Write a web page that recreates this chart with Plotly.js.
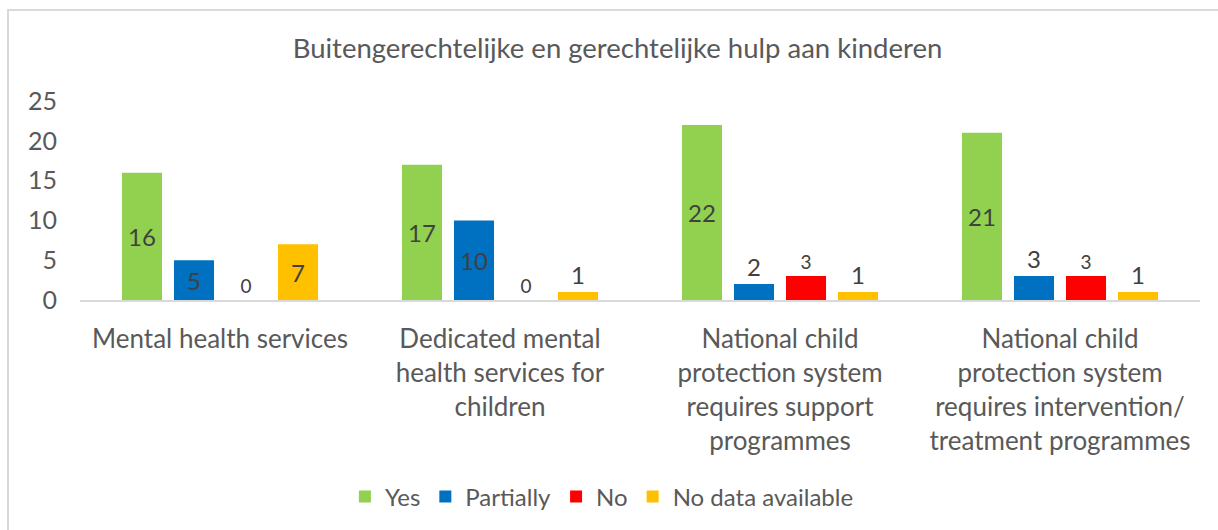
<!DOCTYPE html>
<html>
<head>
<meta charset="utf-8">
<script src="https://cdn.plot.ly/plotly-3.0.1.min.js"></script>
<style>
  html, body { margin: 0; padding: 0; background: #fff; }
  #wrap { position: relative; width: 1218px; height: 530px; overflow: hidden; }
  #chart { position: absolute; left: 0; top: 0; width: 1218px; height: 530px; }
  #frame { position: absolute; left: 7px; top: 9px; width: 1230px; height: 540px;
           border: 2px solid #d9d9d9; box-sizing: border-box; pointer-events: none; }
</style>
</head>
<body>
<div id="wrap">
  <div id="chart"></div>
  <div id="frame"></div>
</div>
<script>
const categories = [
  "Mental health services",
  "Dedicated mental<br>health services for<br>children",
  "National child<br>protection system<br>requires support<br>programmes",
  "National child<br>protection system<br>requires intervention/<br>treatment programmes"
];
const seriesNames = ["Yes", "Partially", "No", "No data available"];
const yesValues = [16, 17, 22, 21];
const partiallyValues = [5, 10, 2, 3];
const noValues = [0, 0, 3, 3];
const noDataValues = [7, 1, 1, 1];
const yTicks = [0, 5, 10, 15, 20, 25];

const colors = ["#92D050", "#0070C0", "#FF0000", "#FFC000"];
const FONT = "Lato, 'Open Sans', sans-serif";
const LABEL = "#404040";

function positions(vals, threshold) {
  return vals.map(v => v >= threshold ? "inside" : "outside");
}

const allValues = [yesValues, partiallyValues, noValues, noDataValues];
const labelSizes = [24, 24, 19, 24];

const traces = allValues.map((vals, i) => ({
  type: "bar",
  name: seriesNames[i],
  x: categories,
  y: vals,
  marker: { color: colors[i] },
  text: vals.map(String),
  textposition: positions(vals, 5),
  insidetextanchor: "middle",
  textangle: 0,
  cliponaxis: false,
  constraintext: "none",
  textfont: { family: FONT, color: LABEL, size: labelSizes[i] },
  insidetextfont: { family: FONT, color: LABEL, size: labelSizes[i] },
  outsidetextfont: { family: FONT, color: LABEL, size: labelSizes[i] },
  hoverinfo: "x+y+name"
}));

const layout = {
  width: 1218,
  height: 530,
  margin: { l: 80, r: 18, t: 101, b: 229 },
  paper_bgcolor: "rgba(0,0,0,0)",
  plot_bgcolor: "rgba(0,0,0,0)",
  barmode: "group",
  bargap: 0.257,
  bargroupgap: 0.23,
  title: {
    text: "Buitengerechtelijke en gerechtelijke hulp aan kinderen",
    font: { family: FONT, size: 27.5, color: "#595959", weight: 400 },
    xref: "container", x: 0.507, xanchor: "center",
    yref: "container", y: 1 - 48 / 530, yanchor: "middle"
  },
  xaxis: {
    type: "category",
    showgrid: false,
    showline: true,
    linecolor: "#d9d9d9",
    linewidth: 2,
    ticks: "",
    tickfont: { family: FONT, size: 26, color: "#595959" },
    ticklabelstandoff: 15,
    fixedrange: true
  },
  yaxis: {
    range: [0, 25],
    tickvals: yTicks,
    showgrid: false,
    zeroline: false,
    showline: false,
    ticks: "",
    tickfont: { family: FONT, size: 25, color: "#595959" },
    ticklabelstandoff: 22,
    fixedrange: true
  },
  legend: {
    orientation: "h",
    xref: "paper", x: 0.466, xanchor: "center",
    yref: "paper", y: -0.98, yanchor: "middle",
    font: { family: FONT, size: 24, color: "#595959" },
    itemwidth: 30,
    traceorder: "normal"
  },
  showlegend: true
};

Plotly.newPlot("chart", traces, layout, { displayModeBar: false });
</script>
</body>
</html>
